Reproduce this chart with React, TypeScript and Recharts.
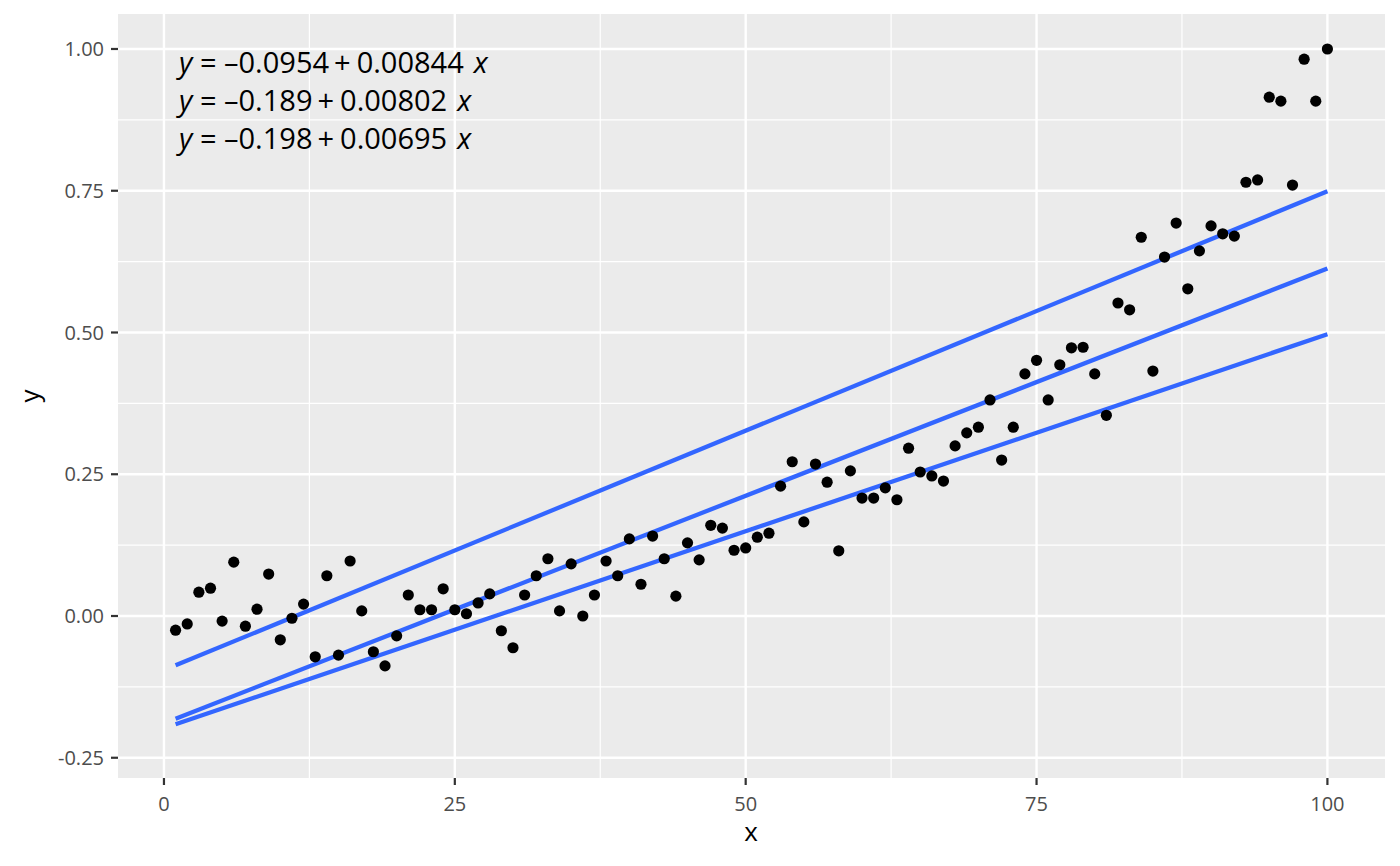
import { CartesianGrid, ComposedChart, Line, Scatter, XAxis, YAxis } from "recharts";

const xs = Array.from({ length: 100 }, (_, i) => i + 1);

const ys = [
  -0.025, -0.014, 0.042, 0.049, -0.009, 0.095, -0.018, 0.012, 0.074, -0.042,
  -0.004, 0.021, -0.072, 0.071, -0.069, 0.097, 0.009, -0.063, -0.088, -0.035,
  0.037, 0.011, 0.011, 0.048, 0.011, 0.004, 0.023, 0.039, -0.026, -0.056,
  0.037, 0.071, 0.101, 0.009, 0.092, 0.0, 0.037, 0.097, 0.071, 0.136,
  0.056, 0.141, 0.101, 0.035, 0.129, 0.099, 0.16, 0.155, 0.116, 0.12,
  0.139, 0.146, 0.229, 0.272, 0.166, 0.268, 0.236, 0.115, 0.256, 0.208,
  0.208, 0.226, 0.205, 0.296, 0.254, 0.247, 0.238, 0.3, 0.323, 0.333,
  0.381, 0.275, 0.333, 0.427, 0.451, 0.381, 0.443, 0.473, 0.474, 0.427,
  0.354, 0.552, 0.54, 0.668, 0.432, 0.633, 0.693, 0.577, 0.644, 0.688,
  0.674, 0.67, 0.765, 0.769, 0.915, 0.908, 0.76, 0.982, 0.908, 1.0,
];

// fitted lines, endpoints at x = 1 and x = 100
const fitX = [1, 100];
const fit1 = [-0.087, 0.749];
const fit2 = [-0.181, 0.613];
const fit3 = [-0.191, 0.497];

const equations = [
  ["\u20130.0954", "0.00844"],
  ["\u20130.189", "0.00802"],
  ["\u20130.198", "0.00695"],
];

const xTicks = [0, 25, 50, 75, 100];
const xMinor = [12.5, 37.5, 62.5, 87.5];
const yTicks = [-0.25, 0, 0.25, 0.5, 0.75, 1.0];
const yMinor = [-0.125, 0.125, 0.375, 0.625, 0.875];

const points = xs.map((x, i) => ({ x, y: ys[i] }));
const toLine = (vals: number[]) => fitX.map((x, i) => ({ x, y: vals[i] }));

const font = "'Open Sans', 'Noto Sans', sans-serif";
const tickFont = 20;

function XTick({ x, y, payload }: any) {
  return (
    <text x={x} y={y + 8} dy="0.78em" textAnchor="middle" fontSize={tickFont} fontFamily={font} fill="#4D4D4D">
      {payload.value}
    </text>
  );
}

function YTick({ x, y, payload }: any) {
  return (
    <text x={x - 5} y={y} dy="0.36em" textAnchor="end" fontSize={tickFont} fontFamily={font} fill="#4D4D4D">
      {Number(payload.value).toFixed(2)}
    </text>
  );
}

export default function App() {
  return (
    <div style={{ position: "absolute", left: 0, top: 0, width: 1400, height: 866, background: "#fff" }}>
      <ComposedChart width={1400} height={866} margin={{ top: 14, right: 15, bottom: 0, left: 0 }}>
        <CartesianGrid
          fill="#EBEBEB"
          stroke="#FFFFFF"
          strokeWidth={1.2}
          horizontalValues={yMinor}
          verticalValues={xMinor}
        />
        <CartesianGrid
          fill="none"
          stroke="#FFFFFF"
          strokeWidth={2.4}
          horizontalValues={yTicks}
          verticalValues={xTicks}
        />
        <XAxis
          dataKey="x"
          type="number"
          domain={[-3.95, 104.95]}
          ticks={xTicks}
          allowDataOverflow
          height={88}
          axisLine={false}
          tickSize={7}
          tickLine={{ stroke: "#333333", strokeWidth: 2.2 }}
          tick={<XTick />}
        />
        <YAxis
          dataKey="y"
          type="number"
          domain={[-0.2857, 1.0617]}
          ticks={yTicks}
          allowDataOverflow
          width={118}
          axisLine={false}
          tickSize={7}
          tickLine={{ stroke: "#333333", strokeWidth: 2.2 }}
          tick={<YTick />}
        />
        <Scatter
          data={points}
          fill="#000000"
          isAnimationActive={false}
          shape={(p: any) => <circle cx={p.cx} cy={p.cy} r={5.6} fill="#000" />}
        />
        {[fit1, fit2, fit3].map((f, i) => (
          <Line
            key={i}
            data={toLine(f)}
            dataKey="y"
            type="linear"
            stroke="#3366FF"
            strokeWidth={4.3}
            dot={false}
            activeDot={false}
            isAnimationActive={false}
          />
        ))}
      </ComposedChart>
      <svg width={1400} height={866} style={{ position: "absolute", left: 0, top: 0, pointerEvents: "none" }}>
        {equations.map(([a, b], i) => (
          <text key={i} x={179} y={73 + i * 38} fontSize={29} fontFamily={font} fill="#000">
            <tspan fontStyle="italic">y</tspan>
            <tspan> = {a}</tspan>
            <tspan dx={5}>+</tspan>
            <tspan dx={6}>{b}</tspan>
            <tspan dx={10} fontStyle="italic">x</tspan>
          </text>
        ))}
        <text x={751} y={841} textAnchor="middle" fontSize={26} fontFamily={font} fill="#000">x</text>
        <text x={39} y={396} textAnchor="middle" fontSize={26} fontFamily={font} fill="#000" transform="rotate(-90 39 396)">y</text>
      </svg>
    </div>
  );
}
